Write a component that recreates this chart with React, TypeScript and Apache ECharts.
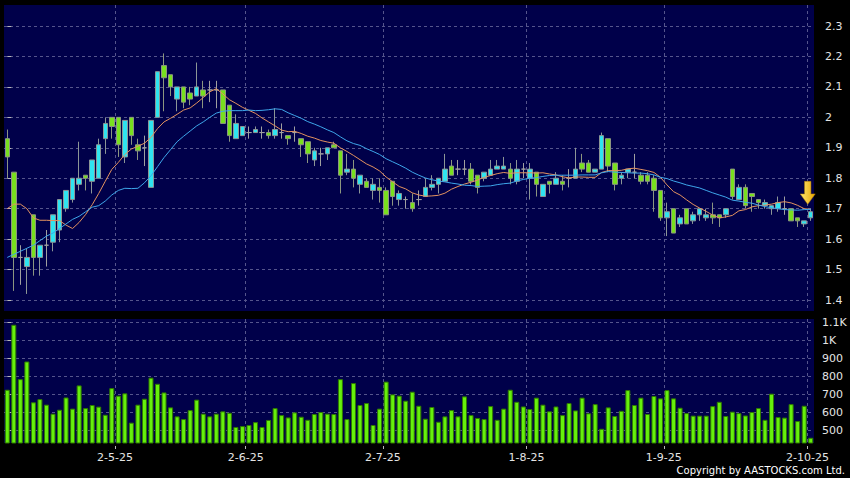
import React, { useEffect, useRef } from "react";
import * as echarts from "echarts";

// Trading days shown (HK market, Apr–Oct 2025)
const aprDays = [3, 7, 8, 9, 10, 11, 14, 15, 16, 17, 22, 23, 24, 25, 28, 29, 30];
const mayDays = [2, 6, 7, 8, 9, 12, 13, 14, 15, 16, 19, 20, 21, 22, 23, 26, 27, 28, 29, 30];
const junDays = [2, 3, 4, 5, 6, 9, 10, 11, 12, 13, 16, 17, 18, 19, 20, 23, 24, 25, 26, 27, 30];
const julDays = [2, 3, 4, 7, 8, 9, 10, 11, 14, 15, 16, 17, 18, 21, 22, 23, 24, 25, 28, 29, 30, 31];
const augDays = [1, 4, 5, 6, 7, 8, 11, 12, 13, 14, 15, 18, 19, 20, 21, 22, 25, 26, 27, 28, 29];
const sepDays = [1, 2, 3, 4, 5, 8, 9, 10, 11, 12, 15, 16, 17, 18, 19, 22, 23, 24, 25, 26, 29, 30];
const octDays = [2];
const months: [number, number[]][] = [
  [4, aprDays], [5, mayDays], [6, junDays], [7, julDays], [8, augDays], [9, sepDays], [10, octDays],
];
const dates: string[] = months.flatMap(([m, ds]) => ds.map((d) => `${d}-${m}-25`));

const opens = [
  1.93, 1.82, 1.54, 1.51, 1.68, 1.54, 1.58, 1.59, 1.63, 1.70,
  1.73, 1.78, 1.81, 1.79, 1.80, 1.93, 2.00, 2.00, 1.87, 2.00,
  1.91, 1.90, 1.77, 2.00, 2.17, 2.14, 2.06, 2.10, 2.08, 2.07,
  2.09, 2.09, 2.09, 2.09, 2.04, 1.93, 1.94, 1.95, 1.95, 1.95,
  1.95, 1.94, 1.95, 1.94, 1.95, 1.93, 1.92, 1.86, 1.88, 1.88,
  1.91, 1.89, 1.82, 1.83, 1.78, 1.79, 1.76, 1.77, 1.76, 1.79,
  1.73, 1.73, 1.72, 1.73, 1.74, 1.77, 1.78, 1.79, 1.84, 1.83,
  1.83, 1.83, 1.81, 1.80, 1.81, 1.83, 1.83, 1.83, 1.79, 1.83,
  1.80, 1.82, 1.74, 1.79, 1.78, 1.79, 1.80, 1.80, 1.85, 1.85,
  1.82, 1.83, 1.93, 1.85, 1.80, 1.82, 1.82, 1.81, 1.81, 1.80,
  1.76, 1.67, 1.70, 1.65, 1.70, 1.66, 1.68, 1.67, 1.68, 1.68,
  1.68, 1.83, 1.73, 1.77, 1.75, 1.73, 1.71, 1.70, 1.70, 1.70,
  1.70, 1.67, 1.65, 1.67,
];
const closes = [
  1.87, 1.54, 1.54, 1.54, 1.54, 1.58, 1.58, 1.68, 1.73, 1.76,
  1.80, 1.80, 1.80, 1.86, 1.91, 1.98, 1.97, 1.91, 1.99, 1.94,
  1.89, 1.90, 1.99, 2.15, 2.13, 2.10, 2.10, 2.05, 2.06, 2.10,
  2.07, 2.09, 2.09, 1.98, 1.94, 1.98, 1.97, 1.95, 1.96, 1.95,
  1.94, 1.96, 1.95, 1.93, 1.95, 1.91, 1.88, 1.89, 1.88, 1.90,
  1.90, 1.81, 1.83, 1.80, 1.81, 1.77, 1.78, 1.76, 1.68, 1.74,
  1.75, 1.73, 1.70, 1.73, 1.77, 1.78, 1.80, 1.83, 1.81, 1.83,
  1.83, 1.79, 1.77, 1.82, 1.83, 1.84, 1.84, 1.80, 1.83, 1.83,
  1.83, 1.78, 1.78, 1.78, 1.80, 1.78, 1.80, 1.83, 1.83, 1.82,
  1.83, 1.94, 1.84, 1.78, 1.81, 1.83, 1.82, 1.79, 1.79, 1.76,
  1.67, 1.69, 1.62, 1.67, 1.65, 1.68, 1.70, 1.68, 1.67, 1.67,
  1.70, 1.74, 1.77, 1.71, 1.74, 1.72, 1.72, 1.71, 1.72, 1.70,
  1.66, 1.66, 1.66, 1.69,
];
const highs = [
  1.96, 1.82, 1.58, 1.57, 1.68, 1.58, 1.63, 1.68, 1.73, 1.76,
  1.80, 1.92, 1.81, 1.86, 1.93, 2.00, 2.00, 2.00, 1.99, 2.00,
  1.93, 1.94, 1.99, 2.15, 2.21, 2.14, 2.10, 2.10, 2.10, 2.18,
  2.12, 2.12, 2.12, 2.09, 2.04, 2.01, 1.97, 1.97, 1.97, 1.97,
  1.96, 2.03, 1.98, 1.94, 1.97, 1.93, 1.92, 1.90, 1.90, 1.90,
  1.92, 1.89, 1.88, 1.86, 1.81, 1.80, 1.80, 1.80, 1.77, 1.79,
  1.76, 1.74, 1.75, 1.76, 1.80, 1.81, 1.80, 1.88, 1.86, 1.86,
  1.86, 1.85, 1.81, 1.82, 1.86, 1.86, 1.87, 1.85, 1.86, 1.85,
  1.85, 1.82, 1.78, 1.79, 1.82, 1.81, 1.83, 1.90, 1.88, 1.86,
  1.83, 1.95, 1.93, 1.85, 1.82, 1.83, 1.88, 1.82, 1.82, 1.81,
  1.76, 1.72, 1.70, 1.68, 1.70, 1.69, 1.70, 1.70, 1.72, 1.68,
  1.70, 1.83, 1.78, 1.78, 1.75, 1.73, 1.73, 1.71, 1.74, 1.74,
  1.70, 1.67, 1.66, 1.70,
];
const lows = [
  1.80, 1.43, 1.45, 1.42, 1.48, 1.48, 1.51, 1.56, 1.59, 1.69,
  1.72, 1.76, 1.76, 1.75, 1.80, 1.88, 1.93, 1.87, 1.85, 1.91,
  1.86, 1.84, 1.77, 2.00, 2.02, 2.07, 2.02, 2.03, 2.04, 2.07,
  2.03, 2.05, 2.03, 1.98, 1.92, 1.93, 1.94, 1.93, 1.95, 1.93,
  1.93, 1.93, 1.93, 1.91, 1.92, 1.87, 1.85, 1.84, 1.84, 1.86,
  1.90, 1.75, 1.81, 1.77, 1.75, 1.77, 1.73, 1.72, 1.68, 1.71,
  1.71, 1.70, 1.69, 1.71, 1.74, 1.76, 1.75, 1.79, 1.81, 1.81,
  1.81, 1.78, 1.75, 1.79, 1.81, 1.83, 1.83, 1.78, 1.78, 1.80,
  1.73, 1.74, 1.74, 1.75, 1.78, 1.76, 1.77, 1.80, 1.82, 1.82,
  1.82, 1.83, 1.82, 1.76, 1.78, 1.80, 1.80, 1.78, 1.78, 1.69,
  1.66, 1.61, 1.62, 1.64, 1.65, 1.65, 1.66, 1.66, 1.65, 1.64,
  1.67, 1.73, 1.73, 1.70, 1.69, 1.70, 1.70, 1.68, 1.69, 1.68,
  1.66, 1.64, 1.64, 1.66,
];
const ma10 = [
  1.70, 1.715, 1.715, 1.70, 1.67, 1.662, 1.662, 1.661, 1.661, 1.646,
  1.635, 1.655, 1.681, 1.713, 1.750, 1.790, 1.829, 1.852, 1.878, 1.896,
  1.905, 1.915, 1.934, 1.963, 1.985, 1.997, 2.010, 2.024, 2.031, 2.047,
  2.065, 2.084, 2.094, 2.077, 2.058, 2.046, 2.033, 2.023, 2.013, 1.998,
  1.985, 1.972, 1.958, 1.953, 1.954, 1.947, 1.938, 1.932, 1.924, 1.919,
  1.915, 1.900, 1.888, 1.875, 1.861, 1.847, 1.837, 1.824, 1.804, 1.788,
  1.773, 1.765, 1.752, 1.745, 1.741, 1.742, 1.744, 1.751, 1.764, 1.773,
  1.781, 1.787, 1.794, 1.803, 1.809, 1.815, 1.819, 1.816, 1.818, 1.818,
  1.818, 1.817, 1.818, 1.814, 1.811, 1.805, 1.801, 1.804, 1.804, 1.803,
  1.803, 1.819, 1.825, 1.825, 1.826, 1.831, 1.833, 1.829, 1.825, 1.819,
  1.803, 1.778, 1.756, 1.745, 1.729, 1.714, 1.702, 1.691, 1.679, 1.670,
  1.673, 1.678, 1.693, 1.697, 1.706, 1.710, 1.712, 1.715, 1.720, 1.723,
  1.719, 1.711, 1.700, 1.698,
];
const ma20 = [
  1.54, 1.55, 1.56, 1.57, 1.58, 1.595, 1.61, 1.62, 1.635, 1.65,
  1.665, 1.675, 1.69, 1.705, 1.71, 1.725, 1.745, 1.76, 1.767, 1.766,
  1.767, 1.785, 1.808, 1.838, 1.868, 1.894, 1.920, 1.938, 1.955, 1.972,
  1.985, 2.000, 2.014, 2.020, 2.022, 2.022, 2.022, 2.024, 2.022, 2.023,
  2.025, 2.028, 2.026, 2.015, 2.006, 1.997, 1.986, 1.978, 1.969, 1.959,
  1.950, 1.936, 1.923, 1.914, 1.908, 1.897, 1.888, 1.878, 1.864, 1.854,
  1.844, 1.833, 1.820, 1.810, 1.801, 1.795, 1.791, 1.788, 1.784, 1.781,
  1.777, 1.776, 1.773, 1.774, 1.775, 1.779, 1.782, 1.784, 1.791, 1.796,
  1.800, 1.802, 1.806, 1.809, 1.810, 1.810, 1.810, 1.810, 1.811, 1.811,
  1.811, 1.818, 1.822, 1.820, 1.819, 1.818, 1.817, 1.817, 1.815, 1.811,
  1.803, 1.799, 1.791, 1.785, 1.778, 1.773, 1.768, 1.760, 1.752, 1.745,
  1.738, 1.728, 1.725, 1.721, 1.718, 1.712, 1.707, 1.703, 1.700, 1.697,
  1.696, 1.695, 1.697, 1.698,
];
const volumes = [
  724, 1085, 783, 881, 654, 672, 641, 591, 613, 681,
  619, 748, 622, 639, 630, 585, 733, 691, 704, 541,
  641, 674, 791, 757, 709, 626, 576, 561, 611, 669,
  591, 576, 591, 604, 596, 517, 522, 528, 544, 517,
  556, 622, 583, 570, 598, 574, 557, 589, 600, 591,
  589, 783, 561, 761, 639, 650, 528, 619, 769, 698,
  691, 663, 713, 635, 563, 628, 546, 576, 611, 576,
  687, 583, 567, 561, 633, 557, 619, 724, 657, 631,
  617, 680, 641, 604, 631, 583, 650, 609, 680, 593,
  644, 507, 626, 578, 607, 722, 639, 680, 589, 689,
  676, 722, 676, 624, 594, 580, 580, 580, 633, 657,
  578, 602, 594, 581, 600, 622, 557, 702, 572, 569,
  644, 550, 635, 457,
];
const priceTicks = [1.4, 1.5, 1.6, 1.7, 1.8, 1.9, 2.0, 2.1, 2.2, 2.3];
const volumeTicks = [500, 600, 700, 800, 900, 1000, 1100];
const arrowLevel = 1.752;

const N = dates.length;
const monthOf = (d: string) => d.split("-")[1];
const monthStarts = dates
  .map((_, i) => i)
  .filter((i) => i > 0 && monthOf(dates[i]) !== monthOf(dates[i - 1]));
const boundaryValues = monthStarts.map((i) => i - 0.5);

const labelStyle = { color: "#e4e4e4", fontFamily: "DejaVu Sans", fontSize: 11 };
const gridLine = { show: true, lineStyle: { color: "#55558c", type: [3, 3] as number[], width: 1 } };
const tickStyle = { color: "#b8b8b8", width: 1 };

function buildOption(): any {
  const candleData = dates.map((_, i) => [opens[i], closes[i], lows[i], highs[i]]);
  return {
    animation: false,
    backgroundColor: "#000000",
    grid: [
      { left: 4, right: 36, top: 5, height: 306, show: true, backgroundColor: "#00004a", borderWidth: 0 },
      { left: 4, right: 36, top: 319, height: 124, show: true, backgroundColor: "#00004a", borderWidth: 0 },
    ],
    xAxis: [
      { type: "category", gridIndex: 0, data: dates, boundaryGap: true, show: false },
      { type: "category", gridIndex: 1, data: dates, boundaryGap: true, show: false },
      {
        type: "value", gridIndex: 0, position: "bottom", min: -0.5, max: N - 0.5,
        axisLine: { show: false },
        axisTick: { show: false, customValues: boundaryValues },
        axisLabel: { show: false, customValues: boundaryValues },
        splitLine: gridLine,
      },
      {
        type: "value", gridIndex: 1, position: "bottom", offset: 3, min: -0.5, max: N - 0.5,
        axisLine: { show: false },
        axisTick: { show: true, length: 3, customValues: boundaryValues, lineStyle: tickStyle },
        axisLabel: {
          ...labelStyle, margin: 6, customValues: boundaryValues,
          formatter: (v: number) => dates[Math.round(v + 0.5)] ?? "",
        },
        splitLine: gridLine,
      },
    ],
    yAxis: [
      {
        type: "value", gridIndex: 0, position: "right", offset: 4, min: 1.364, max: 2.369,
        axisLine: { show: false },
        axisTick: { show: true, length: 4, customValues: priceTicks, lineStyle: tickStyle },
        axisLabel: {
          ...labelStyle, margin: 7, customValues: priceTicks,
          formatter: (v: number) => String(Math.round(v * 10) / 10),
        },
        splitLine: gridLine,
      },
      {
        type: "value", gridIndex: 1, position: "right", offset: 1, min: 428, max: 1117,
        axisLine: { show: false },
        axisTick: { show: true, length: 4, customValues: volumeTicks, lineStyle: tickStyle },
        axisLabel: {
          ...labelStyle, margin: 7, customValues: volumeTicks,
          formatter: (v: number) => (v >= 1000 ? `${Math.round(v / 100) / 10}K` : String(v)),
        },
        splitLine: gridLine,
      },
    ],
    series: [
      {
        type: "candlestick", name: "Price", xAxisIndex: 0, yAxisIndex: 0, data: candleData, barWidth: 5,
        itemStyle: {
          color: "#2fe4f0", color0: "#78e01e",
          borderColor: "#8c9696", borderColor0: "#8c9680", borderColorDoji: "#a0a0a0", borderWidth: 1,
        },
        markPoint: {
          symbol: "path://M4,0L10,0L10,12L14,12L7,22L0,12L4,12Z",
          symbolSize: [15, 23],
          symbolOffset: [-3, 0],
          label: { show: false },
          itemStyle: {
            color: new echarts.graphic.LinearGradient(0, 0, 1, 0, [
              { offset: 0, color: "#ffe873" },
              { offset: 1, color: "#e6a400" },
            ]),
            borderColor: "#b07d00", borderWidth: 0.5,
          },
          data: [{ coord: [N - 1, arrowLevel] }],
        },
      },
      {
        type: "line", name: "MA10", xAxisIndex: 0, yAxisIndex: 0, data: ma10, symbol: "none",
        lineStyle: { color: "#e39260", width: 1 },
      },
      {
        type: "line", name: "MA20", xAxisIndex: 0, yAxisIndex: 0, data: ma20, symbol: "none",
        lineStyle: { color: "#3ea6ea", width: 1 },
      },
      {
        type: "bar", name: "Volume", xAxisIndex: 1, yAxisIndex: 1, data: volumes, barWidth: 5,
        itemStyle: { color: "#66f00c", borderColor: "#2f7a00", borderWidth: 1 },
      },
    ],
    graphic: [
      {
        type: "text", right: 5, top: 465,
        style: { text: "Copyright by AASTOCKS.com Ltd.", fill: "#ffffff", font: '10px "DejaVu Sans"' },
      },
    ],
  };
}

export default function App() {
  const ref = useRef<HTMLDivElement>(null);
  useEffect(() => {
    if (!ref.current) return;
    const chart = echarts.init(ref.current, null, { renderer: "svg" });
    chart.setOption(buildOption());
    return () => chart.dispose();
  }, []);
  return (
    <div
      ref={ref}
      style={{ position: "fixed", left: 0, top: 0, width: 850, height: 478, background: "#000" }}
    />
  );
}
